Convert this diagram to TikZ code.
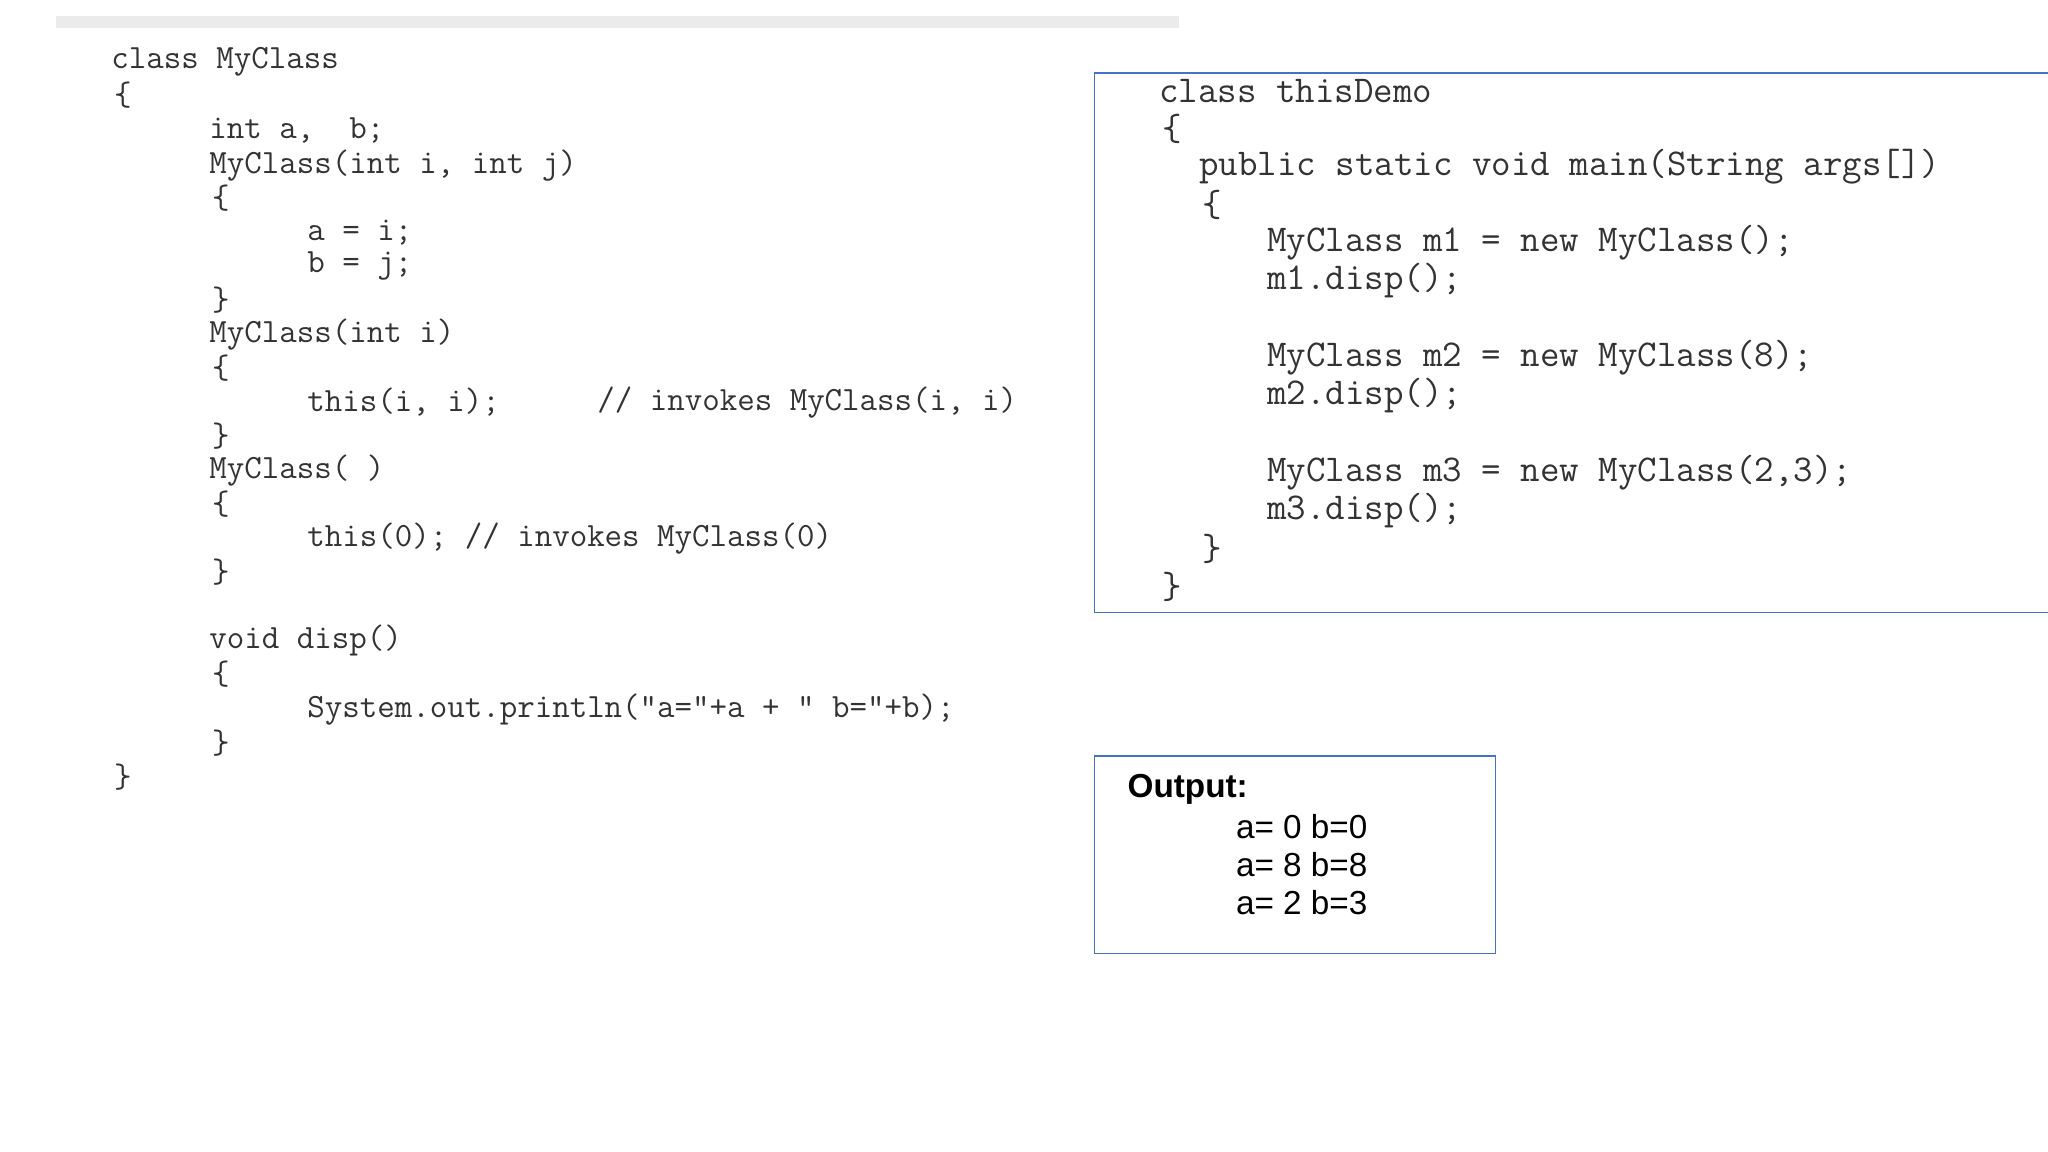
\documentclass[tikz,border=0pt]{standalone}
\usepackage{fontspec}
\setsansfont{Liberation Sans}
\definecolor{bord}{rgb}{0.27,0.45,0.77}
\begin{document}
\begin{tikzpicture}[x=0.02cm,y=-0.02cm,
  lc/.style={anchor=west,inner sep=0pt,font=\fontsize{14.8}{17}\selectfont\ttfamily,text=black!80},
  rc/.style={anchor=west,inner sep=0pt,font=\fontsize{16.5}{19}\selectfont\ttfamily,text=black!80},
  oc/.style={anchor=west,inner sep=0pt,font=\fontsize{14.5}{17}\selectfont\sffamily,text=black},
  boxst/.style={draw=bord,line width=0.7pt}]
\useasboundingbox (0,0) rectangle (1568,882);
\draw[line width=5pt,black!8] (43,17) -- (903,17);
% left code
\node[lc] (l1) at (85,47) {class MyClass};
\node[lc] (l2) at (87,73) {\{};
\node[lc] (l3) at (160,100) {int a,\ \ b;};
\node[lc] (l4) at (160,127) {MyClass(int i, int j)};
\node[lc] (l5) at (162,152) {\{};
\node[lc] (l6) at (235,178) {a = i;};
\node[lc] (l7) at (235,204) {b = j;};
\node[lc] (l8) at (162,230) {\}};
\node[lc] (l9) at (160,256) {MyClass(int i)};
\node[lc] (l10) at (162,282) {\{};
\node[lc] (l11) at (235,308) {this(i, i);};
\node[lc] (l11c) at (457,308) {// invokes MyClass(i, i)};
\node[lc] (l12) at (162,334) {\}};
\node[lc] (l13) at (160,360) {MyClass( )};
\node[lc] (l14) at (162,386) {\{};
\node[lc] (l15) at (235,412) {this(0); // invokes MyClass(0)};
\node[lc] (l16) at (162,438) {\}};
\node[lc] (l17) at (160,490) {void disp()};
\node[lc] (l18) at (162,516) {\{};
\node[lc] (l19) at (235,543) {System.out.println(“a=”+a + “ b=”+b);};
\node[lc] (l20) at (162,569) {\}};
\node[lc] (l21) at (87,595) {\}};
% right box
\draw[boxst] (1568,56) -- (838,56) -- (838,469) -- (1568,469);
\node[rc] (r1) at (887,70) {class thisDemo};
\node[rc] (r2) at (890,99) {\{};
\node[rc] (r3) at (918,128) {public static void main(String args[])};
\node[rc] (r4) at (920,157) {\{};
\node[rc] (r5) at (970,186) {MyClass m1 = new MyClass();};
\node[rc] (r6) at (970,215) {m1.disp();};
\node[rc] (r7) at (970,274) {MyClass m2 = new MyClass(8);};
\node[rc] (r8) at (970,303) {m2.disp();};
\node[rc] (r9) at (970,362) {MyClass m3 = new MyClass(2,3);};
\node[rc] (r10) at (970,391) {m3.disp();};
\node[rc] (r11) at (920,420) {\}};
\node[rc] (r12) at (890,449) {\}};
% output box
\draw[boxst] (838,579) rectangle (1145,730);
\node[oc,font=\fontsize{14.5}{17}\selectfont\sffamily\bfseries] (o1) at (863,604) {Output:};
\node[oc] (o2) at (946,633) {a= 0 b=0};
\node[oc] (o3) at (946,662) {a= 8 b=8};
\node[oc] (o4) at (946,691) {a= 2 b=3};
\end{tikzpicture}
\end{document}
